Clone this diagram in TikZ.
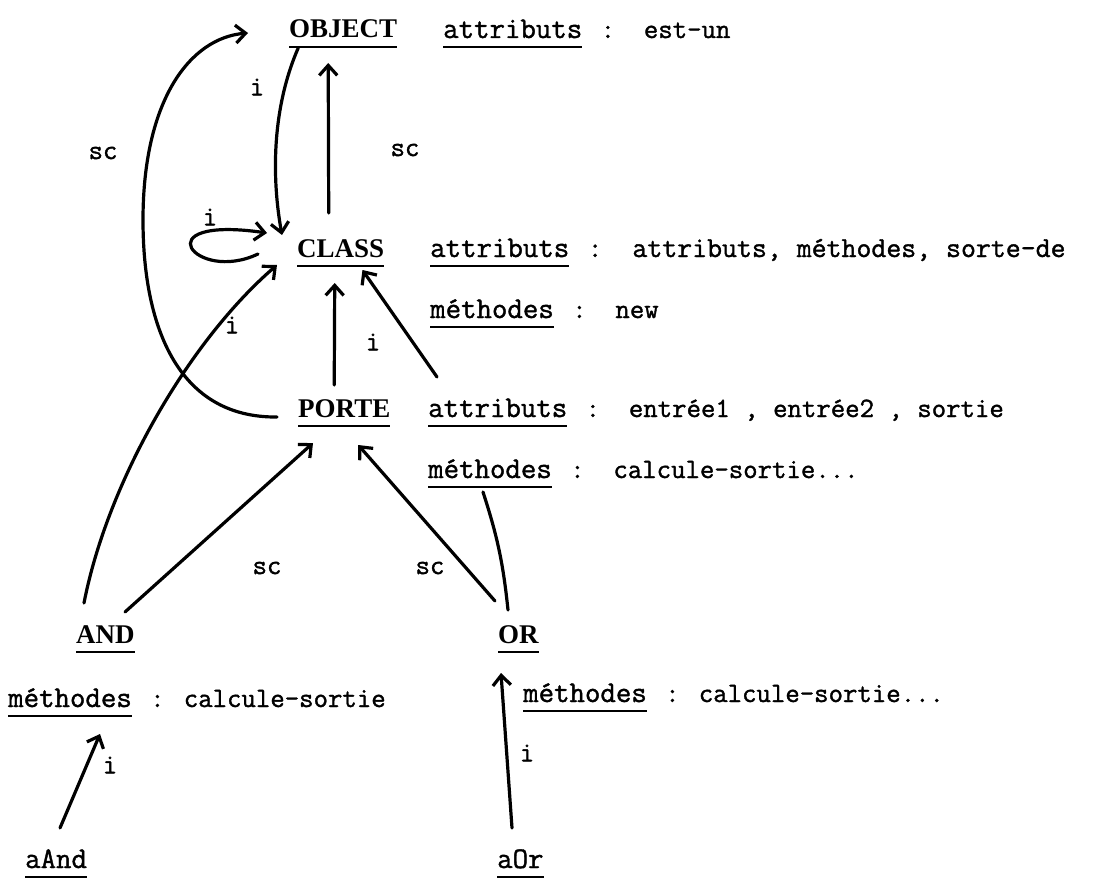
\documentclass[tikz,border=0pt]{standalone}
\usepackage{fontspec}
\setmainfont{Liberation Serif}
\newfontfamily\typew[FakeBold=1.3]{Latin Modern Mono}
\usetikzlibrary{arrows.meta}
\usetikzlibrary{positioning}
\usetikzlibrary{calc}

\tikzset{
  classname/.style={font=\bfseries\fontsize{27}{30}\selectfont, inner sep=0pt, anchor=base west, text depth=0pt},
  slotname/.style={font=\typew\fontsize{30}{34}\selectfont, inner sep=0pt, anchor=base west, text depth=0pt},
  slotval/.style={font=\typew\fontsize{28}{32}\selectfont, inner sep=0pt, anchor=base west, text depth=0pt},
  linklabel/.style={font=\typew\fontsize{28}{32}\selectfont, inner sep=0pt},
  link/.style={line width=3.2pt, line cap=round, -{Straight Barb[length=10pt,width=18pt]}},
  plainlink/.style={line width=3.2pt, line cap=round},
}

\begin{document}
\begin{tikzpicture}[x=1pt,y=-1pt]
  \useasboundingbox (0,0) rectangle (1111,880);

  % the classes
  \node[classname] (object) at (289,38) {OBJECT};
  \node[classname] (class) at (297,257) {CLASS};
  \node[classname] (porte) at (298,417) {PORTE};
  \node[classname] (and) at (76,643) {AND};
  \node[classname] (or) at (498,643) {OR};

  % the instances
  \node[slotname] (aand) at (25,868) {aAnd};
  \node[slotname] (aor) at (497,868) {aOr};

  % slots of each class
  \node[slotname] (objattr) at (443,38) {attributs};
  \node[slotval, right=18pt of objattr.base east, anchor=base west] (objattrval) {:\ \ est-un};

  \node[slotname] (classattr) at (430,257) {attributs};
  \node[slotval, right=18pt of classattr.base east, anchor=base west, font=\typew\fontsize{29}{32}\selectfont] (classattrval) {:\ \ attributs, méthodes, sorte-de};
  \node[slotname] (classmeth) at (430,318) {méthodes};
  \node[slotval, right=18pt of classmeth.base east, anchor=base west] (classmethval) {:\ \ new};

  \node[slotname] (porteattr) at (428,417) {attributs};
  \node[slotval, right=18pt of porteattr.base east, anchor=base west] (porteattrval) {:\ \ entrée1 , entrée2 , sortie};
  \node[slotname] (portemeth) at (428,478) {méthodes};
  \node[slotval, right=18pt of portemeth.base east, anchor=base west] (portemethval) {:\ \ calcule-sortie...};

  \node[slotname] (andmeth) at (8,707) {méthodes};
  \node[slotval, right=18pt of andmeth.base east, anchor=base west] (andmethval) {: calcule-sortie};
  \node[slotname] (ormeth) at (523,702) {méthodes};
  \node[slotval, right=18pt of ormeth.base east, anchor=base west] (ormethval) {: calcule-sortie...};

  % underlines
  \foreach \n in {object,class,porte,and,or,aand,aor,objattr,classattr,classmeth,porteattr,portemeth,andmeth,ormeth}
    \draw[line width=2.8pt] ($(\n.base west)+(0,9)$) -- ($(\n.base east)+(0,9)$);

  % links
  \draw[link] ([shift={(-12,-44)}]class.base) -- ([shift={(-15,25)}]object.base);
  \draw[link] ([shift={(-45,10)}]object.base) .. controls +(-27,62) and +(-10,-55) .. ([shift={(-15,-22)}]class.base west);
  \draw[link] ([shift={(-21,0)}]porte.base west) .. controls (180,418) and (143,330) .. (143,220)
    .. controls (143,100) and (190,38) .. ([shift={(-41,-5)}]object.base west);
  \draw[link] ([shift={(-39,-3)}]class.base west) .. controls (195,284) and (142,215) .. ([shift={(-30,-24)}]class.base west);
  \draw[link] ([shift={(8,-40)}]and.base west) .. controls (108,480) and (190,340) .. ([shift={(-20,8)}]class.base west);
  \draw[link] ([shift={(-10,-32)}]porte.base) -- ([shift={(-6,26)}]class.base);
  \draw[link] ([shift={(9,-40)}]porteattr.base west) -- ([shift={(-22,13)}]class.base east);
  \draw[link] ([shift={(49,-31)}]and.base west) -- ([shift={(15,26)}]porte.base west);
  \draw[link] ([shift={(-3,-42)}]or.base west) -- ([shift={(14,28)}]porte.base);
  \draw[plainlink] ([shift={(55,14)}]portemeth.base west) to[bend left=6] ([shift={(10,-33)}]or.base west);
  \draw[link] ([shift={(35,-40)}]aand.base west) -- ([shift={(92,27)}]andmeth.base west);
  \draw[link] ([shift={(15,-40)}]aor.base west) -- ([shift={(3,30)}]or.base west);

  % link labels
  \node[linklabel] (sc1) at (405,150) {sc};
  \node[linklabel] (i1) at (257,87) {i};
  \node[linklabel] (sc2) at (103,153) {sc};
  \node[linklabel] (i2) at (210,217) {i};
  \node[linklabel] (i3) at (232,325) {i};
  \node[linklabel] (i4) at (373,342) {i};
  \node[linklabel] (sc3) at (267,568) {sc};
  \node[linklabel] (sc4) at (430,568) {sc};
  \node[linklabel] (i5) at (110,765) {i};
  \node[linklabel] (i6) at (527,753) {i};
\end{tikzpicture}
\end{document}
